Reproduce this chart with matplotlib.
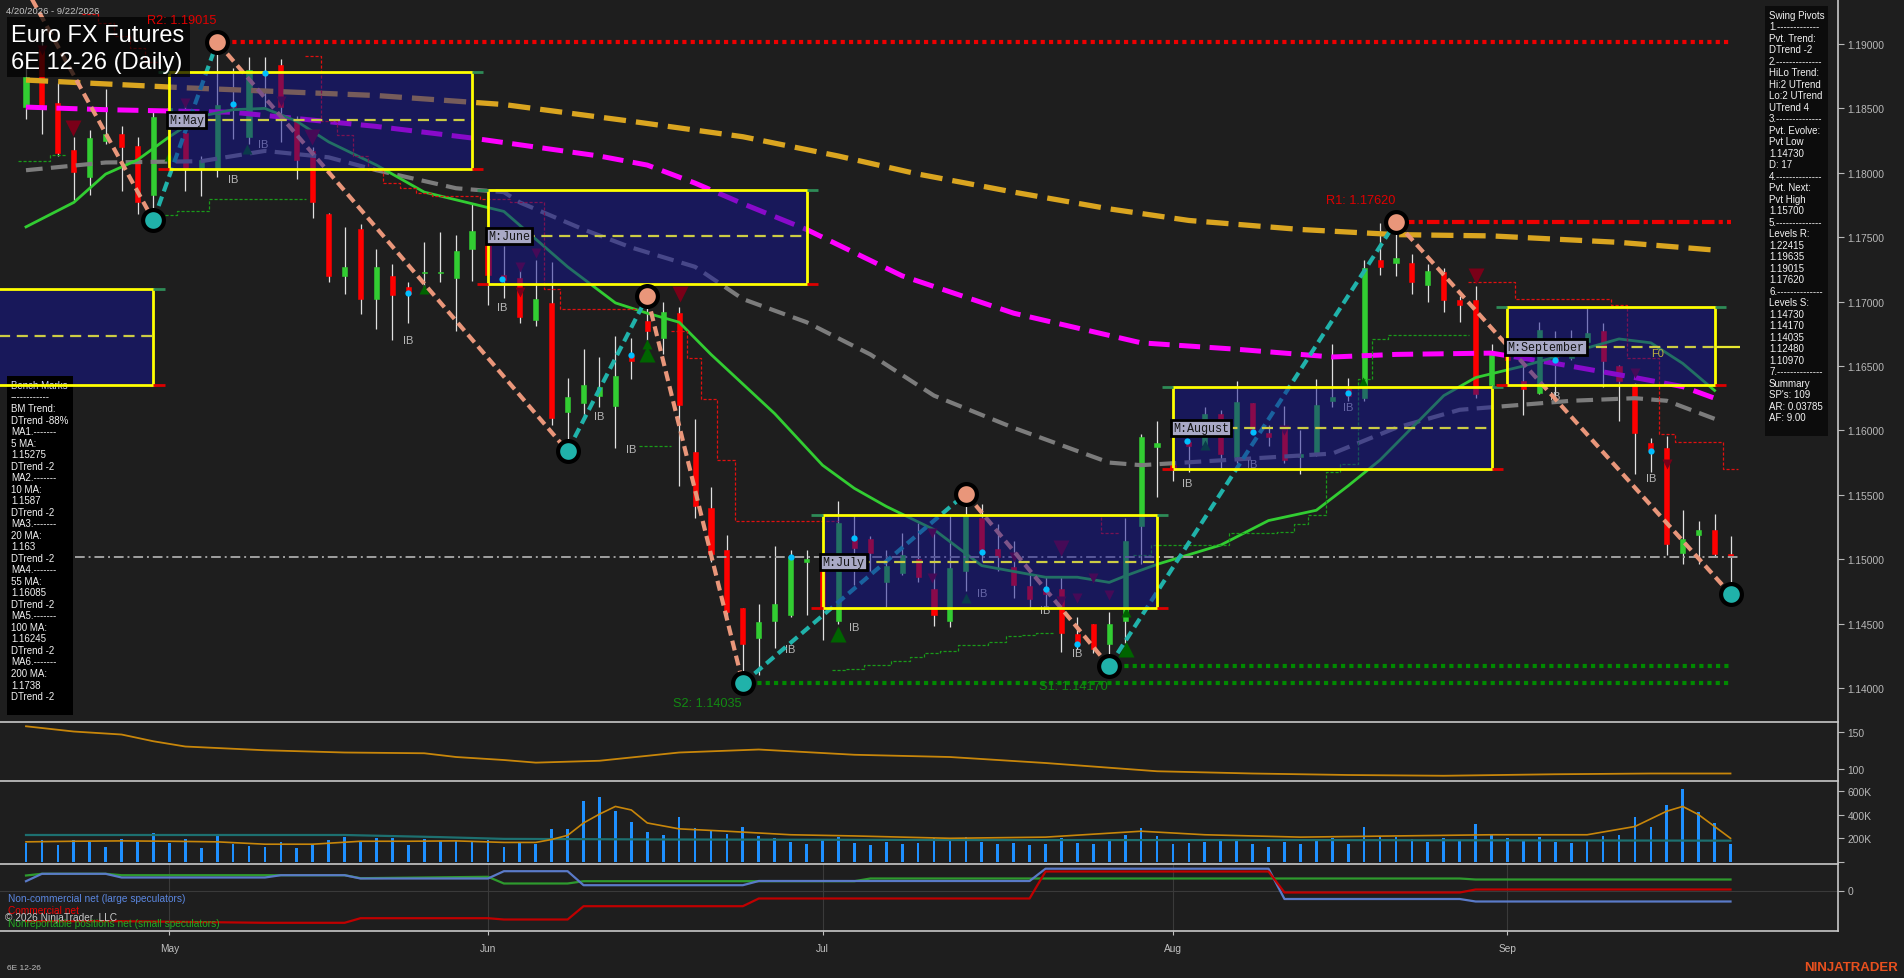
import numpy as np
import pandas as pd
import matplotlib
matplotlib.use("Agg")
import matplotlib.pyplot as plt
from matplotlib.patches import Rectangle
from matplotlib.lines import Line2D

W, H, DPI = 1904, 979, 100
plt.rcParams['font.family'] = ['Liberation Sans', 'DejaVu Sans']

# ---------------- data ----------------
dates = pd.bdate_range("2026-04-20", "2026-09-22")
holidays = pd.to_datetime(["2026-05-25", "2026-06-19", "2026-07-03", "2026-09-07"])
dates = dates[~dates.isin(holidays)]

opens = [1.1851,1.1896,1.1854,1.1818,1.1797,1.1825,1.1830,1.1821,1.1783,1.1843,
1.1831,1.1804,1.1802,1.1853,1.1828,1.1878,1.1884,1.1840,1.1817,1.1768,
1.1720,1.1756,1.1702,1.1720,1.1711,1.1722,1.1722,1.1718,1.1741,1.1745,
1.1721,1.1718,1.1686,1.1699,1.1614,1.1621,1.1627,1.1619,1.1658,1.1685,
1.1672,1.1691,1.1583,1.1540,1.1507,1.1462,1.1439,1.1452,1.1457,1.1498,
1.1500,1.1452,1.1516,1.1516,1.1482,1.1489,1.1500,1.1477,1.1452,1.1491,
1.1532,1.1508,1.1494,1.1479,1.1477,1.1477,1.1442,1.1450,1.1434,1.1452,
1.1526,1.1587,1.1573,1.1591,1.1589,1.1613,1.1579,1.1621,1.1598,1.1601,
1.1579,1.1582,1.1623,1.1632,1.1625,1.1732,1.1730,1.1730,1.1713,1.1723,
1.1701,1.1701,1.1635,1.1660,1.1638,1.1629,1.1670,1.1656,1.1669,1.1677,
1.1650,1.1636,1.1590,1.1586,1.1505,1.1519,1.1523,1.1504]
highs = [1.1882,1.1905,1.1870,1.1828,1.1833,1.1865,1.1836,1.1828,1.1847,1.1860,
1.1856,1.1813,1.19015,1.1881,1.1890,1.1890,1.1888,1.1844,1.1820,1.1769,
1.1758,1.1760,1.1741,1.1729,1.1715,1.1746,1.1754,1.1752,1.1776,1.1752,
1.1743,1.1727,1.1732,1.1731,1.1641,1.1663,1.1657,1.1673,1.1672,1.1704,
1.1700,1.1696,1.1609,1.1556,1.1519,1.1462,1.1465,1.1510,1.1507,1.1507,
1.1503,1.1545,1.1534,1.1518,1.1507,1.1520,1.1528,1.1523,1.1534,1.1551,
1.1543,1.1527,1.1514,1.1489,1.1487,1.1487,1.1455,1.1450,1.1459,1.1532,
1.1597,1.1607,1.1577,1.1593,1.1618,1.1616,1.1638,1.1621,1.1604,1.1619,
1.1600,1.1640,1.1667,1.1641,1.1732,1.1761,1.1762,1.1737,1.1729,1.1726,
1.1704,1.1712,1.1667,1.1670,1.1655,1.1684,1.1677,1.1678,1.1695,1.1683,
1.1651,1.1637,1.1594,1.1596,1.1538,1.1530,1.1535,1.1518]
lows = [1.1842,1.1830,1.1813,1.1779,1.1783,1.1822,1.1786,1.1768,1.1763,1.1825,
1.1786,1.1782,1.1797,1.1826,1.1822,1.1851,1.1824,1.1795,1.1765,1.1715,
1.1706,1.1690,1.1679,1.1670,1.1683,1.1711,1.1715,1.1677,1.1716,1.1697,
1.1703,1.1683,1.1681,1.1604,1.1584,1.1611,1.1618,1.1586,1.1640,1.1670,
1.1659,1.1557,1.1532,1.1498,1.1455,1.14035,1.1410,1.1431,1.1455,1.1457,
1.1437,1.1450,1.1480,1.1491,1.1463,1.1488,1.1482,1.1448,1.1447,1.1475,
1.1498,1.1491,1.1470,1.1461,1.1463,1.1428,1.1430,1.1427,1.1417,1.1435,
1.1496,1.1548,1.1561,1.1568,1.1586,1.1571,1.1575,1.1597,1.1588,1.1575,
1.1566,1.1580,1.1618,1.1623,1.1623,1.1721,1.1720,1.1706,1.1700,1.1692,
1.1684,1.1625,1.1617,1.1640,1.1612,1.1628,1.1625,1.1655,1.1659,1.1634,
1.1607,1.1566,1.1568,1.1503,1.1496,1.1496,1.1502,1.1473]
closes = [1.1874,1.1853,1.1815,1.1801,1.1827,1.1830,1.1820,1.1777,1.1843,1.1850,
1.1803,1.1810,1.1853,1.1851,1.1880,1.1876,1.1851,1.1810,1.1777,1.1720,
1.1727,1.1702,1.1727,1.1705,1.1706,1.1723,1.1723,1.1739,1.1755,1.1721,
1.1717,1.1688,1.1702,1.1610,1.1626,1.1635,1.1634,1.1642,1.1654,1.1677,
1.1692,1.1620,1.1541,1.1504,1.1459,1.1434,1.1451,1.1465,1.1502,1.1500,
1.1462,1.1528,1.1509,1.1505,1.1495,1.1503,1.1486,1.1457,1.1493,1.1534,
1.1507,1.1502,1.1480,1.1469,1.1473,1.1443,1.1434,1.1430,1.1450,1.1514,
1.1595,1.1590,1.1570,1.1588,1.1613,1.1582,1.1622,1.1598,1.1595,1.1577,
1.1582,1.1620,1.1626,1.1627,1.1726,1.1727,1.1734,1.1715,1.1724,1.1701,
1.1697,1.1628,1.1660,1.1655,1.1632,1.1678,1.1653,1.1670,1.1676,1.1654,
1.1638,1.1598,1.1585,1.1512,1.1516,1.1523,1.1504,1.1502]
volume_k = [160,188,143,186,166,129,194,166,245,160,
194,118,228,152,137,126,166,118,149,186,
211,177,203,205,143,194,177,177,177,188,
126,160,149,279,279,519,547,430,340,250,
230,380,290,260,240,300,220,200,170,150,
190,210,160,140,170,150,160,200,190,210,
170,150,160,140,150,200,160,150,190,230,
290,220,150,160,170,180,190,150,130,170,
150,180,200,150,300,220,210,190,170,200,
180,320,240,200,180,210,170,160,180,220,
230,380,300,480,620,420,330,150]

# moving averages (bar index, value)
ma200_x = [0, 10, 22, 30, 38, 45, 51, 56, 62, 68, 73, 80, 86, 92, 100, 106]
ma200_y = [1.1872, 1.1866, 1.1860, 1.1853, 1.1840, 1.1828, 1.1813, 1.1799, 1.1785, 1.1772,
           1.1763, 1.1756, 1.1752, 1.1751, 1.1746, 1.1740]
ma100_x = [0, 5, 13, 22, 28, 36, 39, 42, 45, 49, 55, 62, 70, 76, 82, 86, 92, 96, 101, 104, 106]
ma100_y = [1.1851, 1.1849, 1.1847, 1.1836, 1.1827, 1.1813, 1.1806, 1.1792, 1.1776, 1.1756,
           1.1720, 1.1691, 1.1668, 1.1663, 1.1657, 1.1659, 1.1660, 1.1652, 1.1641, 1.1634, 1.1625]
ma55_x = [0, 5, 11, 15, 19, 22, 27, 30, 31, 35, 38, 42, 45, 49, 53, 57, 62, 68, 70, 78,
          82, 86, 90, 97, 101, 103, 106]
ma55_y = [1.1802, 1.1808, 1.1809, 1.1817, 1.1812, 1.1802, 1.1788, 1.1785, 1.1777, 1.1756,
          1.1742, 1.1727, 1.1702, 1.1684, 1.1659, 1.1627, 1.1602, 1.1575, 1.1573, 1.1579,
          1.1582, 1.1602, 1.1616, 1.1623, 1.1625, 1.1623, 1.1609]
ma20_x = [0, 3, 5, 7, 9, 11, 13, 15, 17, 19, 22, 25, 30, 34, 37, 39, 41, 43, 45, 47,
          50, 52, 54, 57, 60, 64, 66, 68, 69, 71, 75, 78, 81, 83, 85, 87, 89, 91, 94, 96,
          100, 102, 104, 106]
ma20_y = [1.1758, 1.1777, 1.1799, 1.1810, 1.1828, 1.1844, 1.1849, 1.1850, 1.1840, 1.1824,
          1.1806, 1.1785, 1.1770, 1.1727, 1.1699, 1.1691, 1.1684, 1.1659, 1.1636, 1.1613,
          1.1573, 1.1555, 1.1541, 1.1523, 1.1495, 1.1486, 1.1486, 1.1482, 1.1487, 1.1496,
          1.1511, 1.1530, 1.1538, 1.1557, 1.1577, 1.1602, 1.1627, 1.1641, 1.1650, 1.1657,
          1.1671, 1.1668, 1.1652, 1.1631]

# swing pivots (bar index, price); kind: H = high, L = low
pivot_x = [-1.63, 8, 12, 34, 39, 45, 59, 68, 86, 107]
pivot_y = [1.1980, 1.1763, 1.19015, 1.1584, 1.1704, 1.14035, 1.1551, 1.1417, 1.1762, 1.1473]
pivot_kind = ["H", "L", "H", "L", "H", "L", "H", "L", "H", "L"]

# resistance / support levels
level_names = ["R2: 1.19015", "R1: 1.17620", "S2: 1.14035", "S1: 1.14170"]
level_price = [1.19015, 1.17620, 1.14035, 1.14170]
level_start = [12, 86, 45, 68]
level_end = [107, 107, 107, 107]
last_price = 1.1502

# monthly boxes
box_names = ["", "M:May", "M:June", "M:July", "M:August", "M:September"]
box_start = [-5, 9, 29, 50, 72, 93]
box_end = [8, 28, 49, 71, 92, 106]
box_low = [1.1635, 1.1803, 1.1714, 1.1462, 1.1570, 1.1635]
box_high = [1.1710, 1.1878, 1.1787, 1.1534, 1.1634, 1.1696]
box_mid = [1.1673, 1.1841, 1.1751, 1.1498, 1.1602, 1.1665]

# trailing stop steps (start bar, end bar, price)
red_stop_start = [3.5, 4.5, 5.5, 6.5, 7.5, None, 17.5, 18.5, 19.5, 20.5, 21.5, 22.4, 23.5, 24.5, 25.5, 28.5, 30.4, 32.5, 33.5,
                  None, 40.5, 41.5, 42.4, 43.4, 44.5, None, 64.5, 67.5,
                  None, 90.5, 93.5, 99.5, 100.5, 102.5, 103.5, 106.5]
red_stop_end = [4.5, 5.5, 6.5, 7.5, 8.5, None, 18.5, 19.5, 20.5, 21.5, 22.4, 23.5, 24.5, 25.5, 28.5, 30.4, 32.5, 33.5, 38.7,
                None, 41.5, 42.4, 43.4, 44.5, 51.0, None, 67.5, 68.7,
                None, 93.5, 99.5, 100.5, 102.5, 103.5, 106.5, 107.5]
red_stop_val = [1.1923, 1.1916, 1.1906, 1.1897, 1.1886, None, 1.1891, 1.1840, 1.1829, 1.1813, 1.1802, 1.1792, 1.1788, 1.1784,
                1.1782, 1.1780, 1.1777, 1.1710, 1.1694,
                None, 1.1677, 1.1656, 1.1624, 1.1577, 1.1530, None, 1.1534, 1.1520,
                None, 1.1715, 1.1702, 1.1697, 1.1656, 1.1597, 1.1591, 1.1570]
green_stop_start = [-0.5, 1.5, None, 8.4, 9.5, 11.5, None, 38.5, None,
                    50.6, 51.4, 52.6, 54.3, 55.5, 56.4, 57.4, 58.5, 60.4, 61.5, 62.5, 63.4, None,
                    69.5, 70.6, 75.5, 78.5, 79.6, 80.5, 81.6, 82.5, 83.6, 84.5, 85.5]
green_stop_end = [1.5, 2.5, None, 9.5, 11.5, 17.6, None, 40.5, None,
                  51.4, 52.6, 54.3, 55.5, 56.4, 57.4, 58.5, 60.4, 61.5, 62.5, 63.4, 64.5, None,
                  70.6, 75.5, 78.5, 79.6, 80.5, 81.6, 82.5, 83.6, 84.5, 85.5, 90.6]
green_stop_val = [1.1809, 1.1814, None, 1.1767, 1.1770, 1.1780, None, 1.1588, None,
                  1.1414, 1.1415, 1.1418, 1.1421, 1.1424, 1.1427, 1.1429, 1.1433, 1.1436, 1.1440, 1.1441, 1.1443, None,
                  1.1503, 1.1511, 1.1520, 1.1521, 1.1527, 1.1534, 1.1568, 1.1574, 1.1640, 1.1671, 1.1674]

# signal markers (bar index, price)
down_tri_x = [1, 2.95, 10, 16, 17.95, 31, 31, 32, 41.05, 56.9, 56.9, 62, 65, 65, 66, 67, 68, 79, 91, 101, 103]
down_tri_y = [1.1895, 1.18348, 1.18542, 1.18558, 1.18278, 1.1727, 1.17076, 1.17378, 1.1706, 1.15205, 1.14856,
              1.15019, 1.15089, 1.14678, 1.14701, 1.14856, 1.14724, 1.16005, 1.1720, 1.16447, 1.15741]
down_tri_big = [0, 1, 0, 0, 1, 0, 0, 0, 1, 0, 0, 0, 1, 0, 0, 0, 0, 0, 1, 0, 0]
up_tri_x = [9, 13.9, 25, 39, 39, 51, 59, 69.05, 69.05, 74, 83.9]
up_tri_y = [1.18131, 1.18185, 1.17099, 1.16672, 1.16594, 1.14422, 1.14701, 1.14305, 1.14592, 1.15888, 1.16377]
up_tri_big = [0, 0, 0, 0, 1, 1, 0, 1, 0, 0, 0]
dot_x = [13, 15, 24, 29.9, 38, 48, 52, 60, 64, 66, 72.9, 77, 83, 96, 102]
dot_y = [1.18534, 1.18775, 1.17068, 1.17176, 1.16587, 1.15019, 1.15167, 1.15058, 1.14771, 1.14344,
         1.15919, 1.15989, 1.16292, 1.16548, 1.15842]
ib_x = [14.9, 13, 24, 29.9, 36, 38, 48, 52, 60, 64, 66, 72.9, 77, 83, 96, 102]
ib_y = [1.18224, 1.17952, 1.16703, 1.16959, 1.16113, 1.15857, 1.14305, 1.14476, 1.1474, 1.14608,
        1.14274, 1.15593, 1.15741, 1.16183, 1.16268, 1.15632]
f0_x, f0_y = 102.4, 1.1660

# lower panels
atr_x = [0, 3, 6, 8, 10, 15, 20, 25, 27, 30, 32, 36, 41, 46, 52, 58, 64, 71, 77, 83, 89, 96, 102, 107]
atr_y = [157, 150, 146, 137, 130, 125, 122, 121, 116, 112, 108.5, 111, 122, 126, 119, 116, 108, 97, 94, 92,
         91, 93, 94, 94]
vol_avg_x = [0, 3, 6, 9, 12, 15, 18, 21, 24, 27, 30, 32, 33, 34, 35, 36, 37, 38, 39, 41, 44, 48, 52, 58,
             64, 70, 74, 80, 86, 92, 98, 101, 103, 104, 105, 107]
vol_avg_k = [170, 175, 178, 175, 170, 150, 150, 175, 175, 178, 165, 165, 190, 225, 330, 405, 470, 440, 330,
             280, 260, 230, 220, 200, 210, 260, 230, 210, 220, 230, 230, 300, 430, 470, 400, 200]
vol_ma_x = [0, 20, 26, 30, 40, 60, 80, 107]
vol_ma_k = [228, 228, 210, 195, 190, 185, 185, 180]
cot_x = [0, 1, 5, 6, 15, 16, 20, 21, 29, 30, 34, 35, 45, 46, 52, 53, 63, 64, 78, 79, 90, 91, 107]
cot_noncomm_k = [9.3, 16.7, 16.7, 13, 13, 15.3, 15.3, 12, 12, 19.3, 19.3, 5.3, 5.3, 9.5, 9.5, 9.5, 9.5,
                 21.8, 21.8, -8.5, -8.5, -11, -11]
cot_nonrep_k = [15, 16.7, 16.7, 15.3, 15.3, 15.3, 15.3, 12.3, 13.7, 7, 7, 9.3, 9.3, 9.3, 9.3, 12, 12, 12,
                12, 12, 12, 11, 11]
cot_comm_k = [-30.7, -30.7, -30.7, -30.7, -32.3, -32.3, -32.3, -27.7, -27.7, -29, -29, -15.7, -15.7, -8,
              -8, -8, -8, 19, 19, -2, -2, 1, 1]

swing_text = ["Swing Pivots", "1.-------------", "Pvt. Trend:", "DTrend -2", "2.--------------",
              "HiLo Trend:", "Hi:2 UTrend", "Lo:2 UTrend", "UTrend 4", "3.--------------",
              "Pvt. Evolve:", "Pvt Low", "1.14730", "D: 17", "4.--------------", "Pvt. Next:",
              "Pvt High", "1.15700", "5.--------------", "Levels R:", "1.22415", "1.19635",
              "1.19015", "1.17620", "6.--------------", "Levels S:", "1.14730", "1.14170",
              "1.14035", "1.12480", "1.10970", "7.--------------", "Summary", "SP's: 109",
              "AR: 0.03785", "AF: 9.00"]
bench_text = ["Bench Marks", "------------", "BM Trend:", "DTrend -88%", "MA1.-------", "5 MA:",
              "1.15275", "DTrend -2", "MA2.-------", "10 MA:", "1.1587", "DTrend -2", "MA3.-------",
              "20 MA:", "1.163", "DTrend -2", "MA4.-------", "55 MA:", "1.16085", "DTrend -2",
              "MA5.-------", "100 MA:", "1.16245", "DTrend -2", "MA6.-------", "200 MA:", "1.1738",
              "DTrend -2"]

# ---------------- styling ----------------
BG = '#1e1e1e'
TICK = '#b8b8b8'
UP, DN = '#32cd32', '#ff0000'
SALMON, TEAL = '#e9967a', '#20b2aa'

fig = plt.figure(figsize=(W / DPI, H / DPI), dpi=DPI, facecolor=BG)


def rect(x0, y0, x1, y1):
    return [x0 / W, 1 - y1 / H, (x1 - x0) / W, (y1 - y0) / H]


PX = 0.005 / 64.4
XL = (-26 / 15.93, (1838 - 26) / 15.93)


def style(a):
    a.set_facecolor(BG)
    for s in a.spines.values():
        s.set_visible(False)
    a.set_xlim(*XL)
    a.tick_params(axis='x', bottom=False, labelbottom=False)
    a.yaxis.tick_right()
    a.tick_params(axis='y', colors=TICK, labelsize=7.4, length=4, width=0.8, pad=3)


ax = fig.add_axes(rect(0, 0, 1838, 723))
style(ax)
ax.set_ylim(1.19 - 678 * PX, 1.19 + 45 * PX)
ax.set_yticks(np.arange(1.14, 1.19001, 0.005))
ax.set_yticklabels([f"{v:.5f}" for v in np.arange(1.14, 1.19001, 0.005)])

x = np.arange(len(dates))
o, h, l, c = map(np.array, (opens, highs, lows, closes))
up = c >= o
cols = np.where(up, UP, DN)
ax.vlines(x, l, h, color='#e0e0e0', lw=0.9, zorder=3)
ax.bar(x, np.maximum(np.abs(c - o), 0.00005), bottom=np.minimum(o, c), width=0.32,
       color=cols, edgecolor=cols, lw=0.4, zorder=4)

# moving averages
ax.plot(ma200_x, ma200_y, color='#daa520', lw=3.8, dashes=(4.2, 1.9), zorder=5)
ax.plot(ma100_x, ma100_y, color='#ff00ff', lw=3.6, dashes=(4.2, 1.9), zorder=5)
ax.plot(ma55_x, ma55_y, color='#7c7c7c', lw=3.0, dashes=(4.0, 2.0), zorder=5)
ax.plot(ma20_x, ma20_y, color='#32cd32', lw=2.0, zorder=5)


def steps(a, starts, ends, vals, color):
    xs, ys = [], []
    for s0, s1, v in zip(starts, ends, vals):
        if s0 is None:
            xs.append(np.nan); ys.append(np.nan)
            continue
        xs += [s0, s1]; ys += [v, v]
    a.plot(xs, ys, color=color, lw=0.9, dashes=(2.5, 1.5), zorder=5)


steps(ax, red_stop_start, red_stop_end, red_stop_val, '#e01010')
steps(ax, green_stop_start, green_stop_end, green_stop_val, '#1a9a1a')

# last price
ax.hlines(last_price, 3.07, 107.5, color='#a0a0a0', lw=1.4, linestyles=(0, (5, 2, 1, 2)), zorder=5)

# levels
for name, p, s0, s1 in zip(level_names, level_price, level_start, level_end):
    col = '#ee0000' if name.startswith('R') else '#008a00'
    ls = (0, (1, 1)) if not name.startswith('R1') else (0, (3, 1, 1, 1))
    ax.plot([s0 + 0.4, s1], [p, p], color=col, lw=3.0, linestyle=ls, dash_capstyle='butt', zorder=6)

# swing lines
for i in range(len(pivot_x) - 1):
    col = SALMON if pivot_kind[i] == 'H' else TEAL
    ax.plot(pivot_x[i:i + 2], pivot_y[i:i + 2], color=col, lw=3.0, dashes=(2.4, 1.3), zorder=6)

# IB labels & markers (below box fill)
for bx, by in zip(ib_x, ib_y):
    ax.text(bx, by, "IB", color='#b8b8b8', fontsize=8, ha='center', va='center', zorder=5)
for tx, ty, big in zip(down_tri_x, down_tri_y, down_tri_big):
    ax.plot(tx, ty, marker='v', color='#7a0018', ms=11 if big else 7, mec='none', zorder=5)
for tx, ty, big in zip(up_tri_x, up_tri_y, up_tri_big):
    ax.plot(tx, ty, marker='^', color='#006400', ms=11 if big else 7, mec='none', zorder=5)

# month boxes
for name, s0, s1, lo, hi, mid in zip(box_names, box_start, box_end, box_low, box_high, box_mid):
    ax.add_patch(Rectangle((s0, lo), s1 - s0, hi - lo, facecolor='#141496', alpha=0.5,
                           edgecolor='none', zorder=8))
    ax.add_patch(Rectangle((s0, lo), s1 - s0, hi - lo, fill=False, edgecolor='#ffff00',
                           lw=2.0, zorder=9))
    ax.hlines(mid, s0, s1, color='#cccc44', lw=1.6, linestyles=(0, (5, 3)), zorder=9)
    ax.hlines(hi, s1, s1 + 0.7, color='#2e8b57', lw=2, zorder=9)
    ax.hlines(lo, s1, s1 + 0.7, color='#dd0000', lw=2, zorder=9)
    ax.hlines(hi, s0 - 0.7, s0, color='#2e8b57', lw=2, zorder=9)
    ax.hlines(lo, s0 - 0.7, s0, color='#dd0000', lw=2, zorder=9)
    if name:
        ax.text(s0, mid, name, fontfamily='Liberation Mono', fontsize=8.5, color='#151515',
                ha='left', va='center', zorder=12,
                bbox=dict(boxstyle='square,pad=0.18', fc='#a9a9c6', ec='black', lw=2))
ax.hlines(box_mid[-1], box_end[-1], 107.6, color='#e8e830', lw=1.6, zorder=9)
ax.text(f0_x, f0_y, "F0", color='#bdb040', fontsize=8, ha='center', va='center', zorder=10)

for dx, dy in zip(dot_x, dot_y):
    ax.plot(dx, dy, 'o', color='#00bfff', ms=4.5, mec='none', zorder=10)

# pivot circles + labels
for px_, py_, k in zip(pivot_x[1:], pivot_y[1:], pivot_kind[1:]):
    ax.plot(px_, py_, 'o', ms=15, mfc=SALMON if k == 'H' else TEAL, mec='black', mew=3, zorder=11)
for name, p, s0 in zip(level_names, level_price, level_start):
    res = name.startswith('R')
    ax.annotate(name, (s0, p), xytext=(-25.5, 16.0 if res else -14.2), textcoords='offset points',
                color='#e00000' if res else '#128a12', fontsize=9.2, ha='center', va='center', zorder=17)

# title box
tf = fig.transFigure
ax.add_patch(Rectangle((7 / W, 1 - 78 / H), 183 / W, 60 / H, transform=tf, fc='black', alpha=0.72,
                       ec='none', zorder=15))
ax.text(11 / W, 1 - 36 / H, "Euro FX Futures", transform=tf, color='white', fontsize=17, va='center',
        zorder=16)
ax.text(11 / W, 1 - 63 / H, "6E 12-26 (Daily)", transform=tf, color='white', fontsize=17, va='center',
        zorder=16)
ax.text(6 / W, 1 - 11 / H, "4/20/2026 - 9/22/2026", transform=tf, color='#c4c4c4', fontsize=6.8,
        va='center', zorder=16)

# swing pivots panel
ax.add_patch(Rectangle((1765 / W, 1 - 437 / H), 63 / W, 430 / H, transform=tf, fc='#0c0c0c', ec='none',
                       zorder=15))
for i, s in enumerate(swing_text):
    ax.text(1769 / W, 1 - (16 + i * 11.49) / H, s, transform=tf, color='#f2f2f2', fontsize=7,
            va='center', zorder=16)

# bench marks panel
ax.add_patch(Rectangle((7 / W, 1 - 716 / H), 66 / W, 339 / H, transform=tf, fc='black', ec='none',
                       zorder=8.5))
for i, s in enumerate(bench_text):
    ax.text(11 / W, 1 - (386 + i * 11.52) / H, s, transform=tf,
            color='#c8d0ff' if i == 0 else '#f2f2f2', fontsize=7, va='center', zorder=8.6)

# ---------------- panel 2 ----------------
ax2 = fig.add_axes(rect(0, 723, 1838, 782))
style(ax2)
ax2.set_ylim(84, 162.7)
ax2.set_yticks([100, 150])
ax2.plot(atr_x, atr_y, color='#c8860a', lw=1.3)

# ---------------- volume ----------------
ax3 = fig.add_axes(rect(0, 782, 1838, 865))
style(ax3)
ax3.set_ylim(-17800, 685600)
ax3.set_yticks([0, 200000, 400000, 600000])
ax3.set_yticklabels(['', '200K', '400K', '600K'])
ax3.bar(x, np.array(volume_k) * 1000, width=0.17, color='#1e90ff')
ax3.plot(vol_ma_x, np.array(vol_ma_k) * 1000, color='#1d7070', lw=1.6)
ax3.plot(vol_avg_x, np.array(vol_avg_k) * 1000, color='#c8860a', lw=1.2)

# ---------------- COT ----------------
ax4 = fig.add_axes(rect(0, 865, 1838, 932))
style(ax4)
ax4.set_ylim(-40500, 26500)
ax4.set_yticks([0])
month_idx = [i for i in range(1, len(dates)) if dates[i].month != dates[i - 1].month]
for mi in month_idx:
    ax4.axvline(mi, color='#3a3a3a', lw=0.8, zorder=0)
ax4.axhline(0, color='#3a3a3a', lw=0.8, zorder=0)
ax4.plot(cot_x, np.array(cot_nonrep_k) * 1000, color='#2e9a2e', lw=1.6)
ax4.plot(cot_x, np.array(cot_noncomm_k) * 1000, color='#5a7ac8', lw=1.6)
ax4.plot(cot_x, np.array(cot_comm_k) * 1000, color='#c00000', lw=1.6)
ax4.set_xticks(month_idx)
ax4.set_xticklabels([dates[i].strftime('%b') for i in month_idx])
ax4.tick_params(axis='x', bottom=True, labelbottom=True, colors='#c0c0c0', labelsize=7.3,
                length=3, pad=6)

fig.text(8 / W, 1 - 899 / H, "Non-commercial net (large speculators)", color='#5a86e0', fontsize=7.3,
         va='center')
fig.text(8 / W, 1 - 911.5 / H, "Commercial net", color='#ee0000', fontsize=7.3, va='center')
fig.text(5 / W, 1 - 918 / H, "© 2026 NinjaTrader, LLC", color='#c8c8c8', fontsize=7.3, va='center')
fig.text(8 / W, 1 - 924.5 / H, "Nonreportable positions net (small speculators)", color='#22aa22',
         fontsize=7.3, va='center')
fig.text(7 / W, 1 - 969 / H, "6E 12-26", color='#c0c0c0', fontsize=6, va='center')
fig.text(1898 / W, 1 - 968 / H, "NINJATRADER", color='#e8501e', fontsize=9.5, fontweight='bold',
         ha='right', va='center')

# separators and axis line
for yy in (723, 782, 865, 932):
    fig.add_artist(Line2D([0, 1838 / W], [1 - yy / H] * 2, transform=tf, color='#c8c8c8', lw=1.2))
fig.add_artist(Line2D([1838 / W] * 2, [1 - 932 / H, 1], transform=tf, color='#c8c8c8', lw=1.2))

fig.savefig("out.png", dpi=DPI, facecolor=BG)
